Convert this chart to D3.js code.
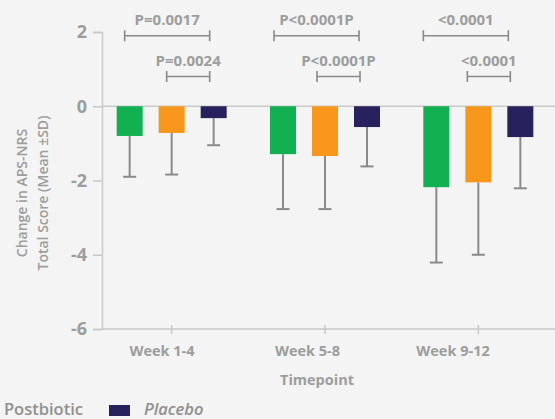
<!DOCTYPE html>
<html><head><meta charset="utf-8">
<script src="https://cdn.jsdelivr.net/npm/d3@7"></script>
<style>
html,body{margin:0;padding:0;background:#f3f4f3;}
svg{display:block;font-family:"Open Sans",sans-serif;}
</style></head>
<body><svg id="chart" width="555" height="419"></svg>
<script>
const categories = ["Week 1-4", "Week 5-8", "Week 9-12"];
const seriesKeys = ["s1", "s2", "placebo"];
const seriesColors = ["#12b050", "#f7981d", "#27225e"];
const meanS1 = [-0.80, -1.29, -2.18];
const meanS2 = [-0.72, -1.34, -2.05];
const meanPlacebo = [-0.32, -0.56, -0.83];
const sdS1 = [1.10, 1.48, 2.03];
const sdS2 = [1.12, 1.43, 1.95];
const sdPlacebo = [0.73, 1.06, 1.38];
const yTicks = [2, 0, -2, -4, -6];
const pTop = ["P=0.0017", "P<0.0001P", "<0.0001"];
const pLow = ["P=0.0024", "P<0.0001P", "<0.0001"];
const bracketTopY = 1.9, bracketLowY = 0.8;
const legendVisible = [{name: "Postbiotic", italic: false}, {name: "Placebo", italic: true}];

const means = [meanS1, meanS2, meanPlacebo];
const sds = [sdS1, sdS2, sdPlacebo];

const svg = d3.select("#chart");
const gray = "#9d9d9d", axisCol = "#c9c9c9", errCol = "#8a8a8a";

const y = d3.scaleLinear().domain([-6, 2]).range([329, 32]);
const x = d3.scaleBand().domain(categories).range([95, 555]);
const xi = d3.scaleBand().domain(seriesKeys).range([-63, 63]).paddingInner(16/42).paddingOuter(8/42);
const xLabel = d3.scalePoint().domain(categories).range([162, 453]);

// y axis
const yAxis = d3.axisLeft(y).tickValues(yTicks).tickSize(9).tickPadding(6).tickFormat(d => String(d));
const gy = svg.append("g").attr("transform", "translate(102,0)").call(yAxis);
gy.select(".domain").attr("stroke", axisCol).attr("stroke-width", 1.5);
gy.selectAll(".tick line").attr("stroke", axisCol).attr("stroke-width", 1.5);
gy.selectAll(".tick text").attr("fill", gray).attr("font-size", 18).attr("font-weight", 700)
  .attr("font-family", "Open Sans");

// zero line
svg.append("line").attr("x1", 102).attr("x2", 555).attr("y1", y(0)).attr("y2", y(0))
  .attr("stroke", axisCol).attr("stroke-width", 1.5);

// x axis
const xAxis = d3.axisBottom(x).tickSize(5).tickFormat("");
const gx = svg.append("g").attr("transform", `translate(0,${y(-6)})`).call(xAxis);
gx.select(".domain").attr("stroke", axisCol).attr("stroke-width", 1.5).attr("d", `M102,0H555`);
gx.selectAll(".tick line").attr("stroke", axisCol).attr("stroke-width", 1.5).attr("y1", -4);

svg.append("g").selectAll("text").data(categories).join("text")
  .attr("x", d => xLabel(d)).attr("y", 356).attr("text-anchor", "middle")
  .attr("fill", gray).attr("font-size", 14.5).attr("font-weight", 700).text(d => d);

svg.append("text").attr("x", 317).attr("y", 385).attr("text-anchor", "middle")
  .attr("fill", gray).attr("font-size", 14.5).attr("font-weight", 700).text("Timepoint");

// y title
const yt = svg.append("text").attr("transform", "translate(27,193) rotate(-90)")
  .attr("text-anchor", "middle").attr("fill", gray).attr("font-size", 14).attr("font-weight", 600);
yt.append("tspan").attr("x", 0).attr("dy", 0).text("Change in APS-NRS");
yt.append("tspan").attr("x", 0).attr("dy", 21).text("Total Score (Mean ±SD)");

// bars + error bars
const data = [];
categories.forEach((c, ci) => seriesKeys.forEach((k, si) => {
  data.push({c, k, si, m: means[si][ci], sd: sds[si][ci]});
}));
const gBars = svg.append("g");
data.forEach(d => {
  const cx = x(d.c) + x.bandwidth() / 2 + xi(d.k) + xi.bandwidth() / 2;
  const x0 = x(d.c) + x.bandwidth() / 2 + xi(d.k);
  const yEnd = y(d.m - d.sd);
  gBars.append("line").attr("x1", cx).attr("x2", cx).attr("y1", y(d.m)).attr("y2", yEnd)
    .attr("stroke", errCol).attr("stroke-width", 2);
  gBars.append("line").attr("x1", cx - 6.5).attr("x2", cx + 6.5).attr("y1", yEnd).attr("y2", yEnd)
    .attr("stroke", errCol).attr("stroke-width", 2);
  gBars.append("rect").attr("x", x0).attr("width", xi.bandwidth())
    .attr("y", y(0)).attr("height", y(d.m) - y(0)).attr("fill", seriesColors[d.si]);
});

// significance brackets
const gB = svg.append("g");
function bracket(c, k1, k2, yv, label, shift) {
  const base = x(c) + x.bandwidth() / 2;
  const a = base + xi(k1) + xi.bandwidth() / 2 - 5 - shift;
  const b = base + xi(k2) + xi.bandwidth() / 2 - 4 - shift;
  const yy = y(yv);
  gB.append("path").attr("d", `M${a},${yy - 5.5}V${yy + 5.5}M${a},${yy}H${b}M${b},${yy - 5.5}V${yy + 5.5}`)
    .attr("stroke", errCol).attr("stroke-width", 1.6).attr("fill", "none");
  gB.append("text").attr("x", (a + b) / 2).attr("y", yy - 11).attr("text-anchor", "middle")
    .attr("fill", gray).attr("font-size", 15).attr("font-weight", 700).text(label);
}
categories.forEach((c, i) => {
  bracket(c, "s1", "placebo", bracketTopY, pTop[i], i * 4);
  bracket(c, "s2", "placebo", bracketLowY, pLow[i], i * 3);
});

// legend (partially cropped in original)
const gl = svg.append("g");
gl.append("text").attr("x", 83).attr("y", 415).attr("text-anchor", "end")
  .attr("fill", "#909090").attr("font-size", 16.5).attr("font-weight", 600).text(legendVisible[0].name);
gl.append("rect").attr("x", 109).attr("y", 405).attr("width", 21).attr("height", 11).attr("fill", seriesColors[2]);
gl.append("text").attr("x", 144).attr("y", 415)
  .attr("fill", "#909090").attr("font-size", 16.5).attr("font-weight", 600).attr("font-style", "italic")
  .text(legendVisible[1].name);
</script></body></html>
